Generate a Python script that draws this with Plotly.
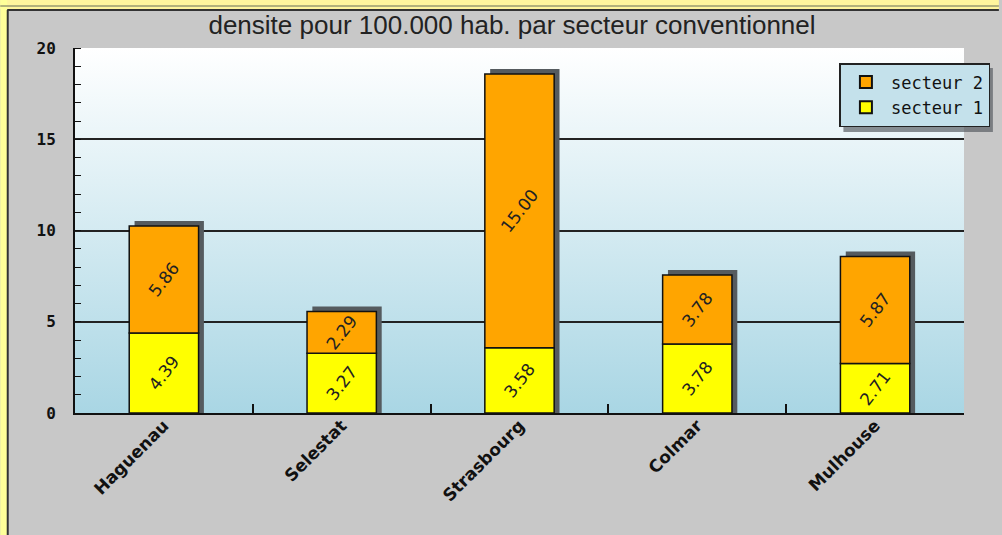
import base64

import plotly.graph_objects as go

villes = ["Haguenau", "Selestat", "Strasbourg", "Colmar", "Mulhouse"]
secteur_1 = [4.39, 3.27, 3.58, 3.78, 2.71]
secteur_2 = [5.86, 2.29, 15.00, 3.78, 5.87]
y_ticks = [0, 5, 10, 15, 20]

W, H = 1002, 535
L, R, T, B = 75, 35, 48, 122
PW, PH = W - L - R, H - T - B

BAR_W = 0.39
SHADOW_DX = 0.03   # ~5px to the right, in category units
SHADOW_DY = 0.27   # ~5px up, in data units


def px_x(p):
    return (p - L) / PW


def px_y(p):
    return (H - B - p) / PH


gradient_svg = (
    '<svg xmlns="http://www.w3.org/2000/svg" width="10" height="100" preserveAspectRatio="none">'
    '<defs><linearGradient id="g" x1="0" y1="0" x2="0" y2="1">'
    '<stop offset="0" stop-color="#ffffff"/><stop offset="1" stop-color="#a9d6e4"/>'
    '</linearGradient></defs><rect width="10" height="100" fill="url(#g)"/></svg>'
)
gradient_src = "data:image/svg+xml;base64," + base64.b64encode(gradient_svg.encode()).decode()

totals = [a + b for a, b in zip(secteur_1, secteur_2)]

fig = go.Figure()

# drop shadow behind each stacked bar
fig.add_trace(go.Bar(
    x=villes,
    y=[t + SHADOW_DY for t in totals],
    width=BAR_W,
    offset=-BAR_W / 2 + SHADOW_DX,
    marker=dict(color="#555b5f", line=dict(width=0)),
    showlegend=False,
    hoverinfo="skip",
))

label_font = dict(family="DejaVu Sans", size=17, color="#222222")

fig.add_trace(go.Bar(
    name="secteur 1",
    legendgroup="s1",
    x=villes,
    y=secteur_1,
    width=BAR_W,
    marker=dict(color="#ffff00", line=dict(color="#111111", width=1.5)),
    text=[f"{v:.2f}" for v in secteur_1],
    textposition="inside",
    insidetextanchor="middle",
    constraintext="none",
    textangle=-52,
    textfont=label_font,
))

fig.add_trace(go.Bar(
    name="secteur 2",
    legendgroup="s2",
    x=villes,
    y=secteur_2,
    base=secteur_1,
    width=BAR_W,
    marker=dict(color="#ffa500", line=dict(color="#111111", width=1.5)),
    text=[f"{v:.2f}" for v in secteur_2],
    textposition="inside",
    insidetextanchor="middle",
    constraintext="none",
    textangle=-52,
    textfont=label_font,
))

shapes = [
    # yellow page frame around the grey panel
    dict(type="rect", xref="paper", yref="paper", x0=px_x(0), x1=px_x(W), y0=px_y(9), y1=px_y(0),
         fillcolor="#fff59d", line=dict(width=0), layer="below"),
    dict(type="rect", xref="paper", yref="paper", x0=px_x(0), x1=px_x(7), y0=px_y(H), y1=px_y(0),
         fillcolor="#ffff99", line=dict(width=0), layer="below"),
    dict(type="line", xref="paper", yref="paper", x0=px_x(7), x1=px_x(W), y0=px_y(10), y1=px_y(10),
         line=dict(color="#333333", width=2), layer="below"),
    dict(type="line", xref="paper", yref="paper", x0=px_x(7.5), x1=px_x(7.5), y0=px_y(H), y1=px_y(10),
         line=dict(color="#333333", width=2), layer="below"),
    dict(type="line", xref="paper", yref="paper", x0=px_x(0), x1=px_x(W), y0=px_y(6), y1=px_y(6),
         line=dict(color="#9a9a70", width=1.5), layer="below"),
    # legend shadow
    dict(type="rect", xref="paper", yref="paper", x0=px_x(846), x1=px_x(996), y0=px_y(132), y1=px_y(68),
         fillcolor="rgba(80,85,90,0.65)", line=dict(width=0), layer="above"),
]

fig.update_layout(
    width=W,
    height=H,
    margin=dict(l=L, r=R, t=T, b=B),
    paper_bgcolor="#c8c8c8",
    plot_bgcolor="rgba(0,0,0,0)",
    barmode="overlay",
    title=dict(
        text="densite pour 100.000 hab. par secteur conventionnel",
        x=0.511, xanchor="center", xref="container",
        y=1 - 25 / H, yanchor="middle", yref="container",
        font=dict(family="Liberation Sans", size=26, color="#222222"),
    ),
    font=dict(family="DejaVu Sans", color="#111111"),
    legend=dict(
        x=px_x(842), y=px_y(63), xanchor="left", yanchor="top",
        bgcolor="#c4e1eb", bordercolor="#222222", borderwidth=1.5,
        traceorder="reversed", tracegroupgap=8, itemwidth=40,
        font=dict(family="DejaVu Sans Mono", size=17, color="#111111"),
        itemsizing="constant",
    ),
    images=[dict(
        source=gradient_src, xref="paper", yref="paper", x=0, y=1,
        sizex=1, sizey=1, sizing="stretch", xanchor="left", yanchor="top", layer="below",
    )],
    shapes=shapes,
    showlegend=True,
)

fig.update_xaxes(
    type="category",
    showline=True, linecolor="#111111", linewidth=2,
    ticks="inside", tickson="boundaries", ticklen=9, tickcolor="#111111", tickwidth=1.5,
    tickangle=-45, ticklabelstandoff=-6,
    tickfont=dict(family="DejaVu Sans", size=17, color="#111111", weight="bold"),
    showgrid=False,
)

fig.update_yaxes(
    range=[0, 20],
    tickvals=y_ticks,
    showline=True, linecolor="#111111", linewidth=2,
    showgrid=True, gridcolor="#222222", gridwidth=1.5,
    ticks="", ticklabelstandoff=14,
    tickfont=dict(family="DejaVu Sans Mono", size=16, color="#111111", weight="bold"),
    minor=dict(dtick=1, ticks="inside", ticklen=6, tickcolor="#111111", showgrid=False),
    zeroline=False,
)

fig.write_html(
    "out.html",
    config={"displayModeBar": False},
    post_script="document.body.style.margin = '0px';",
)
